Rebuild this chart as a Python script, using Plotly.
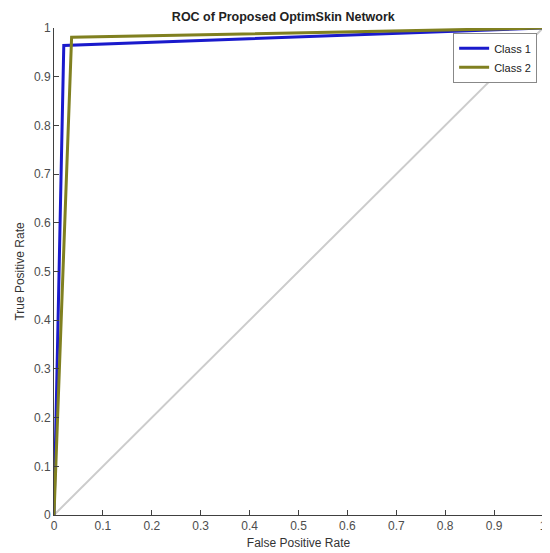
import plotly.graph_objects as go

# ROC data
class1_fpr = [0.0, 0.02, 1.0]
class1_tpr = [0.0, 0.964, 1.0]
class2_fpr = [0.0, 0.036, 1.0]
class2_tpr = [0.0, 0.981, 1.0]
chance_x = [0.0, 1.0]
chance_y = [0.0, 1.0]
tick_vals = [0, 0.1, 0.2, 0.3, 0.4, 0.5, 0.6, 0.7, 0.8, 0.9, 1]
tick_text = ["0", "0.1", "0.2", "0.3", "0.4", "0.5", "0.6", "0.7", "0.8", "0.9", "1"]

fig = go.Figure()
fig.add_trace(go.Scatter(x=chance_x, y=chance_y, mode="lines",
                         line=dict(color="#cccccc", width=2), showlegend=False, hoverinfo="skip"))
fig.add_trace(go.Scatter(x=class1_fpr, y=class1_tpr, mode="lines", name="Class 1",
                         line=dict(color="#1a1acc", width=3)))
fig.add_trace(go.Scatter(x=class2_fpr, y=class2_tpr, mode="lines", name="Class 2",
                         line=dict(color="#808020", width=3)))

axis_common = dict(range=[0, 1], tickvals=tick_vals, ticktext=tick_text,
                   ticks="inside", ticklen=5, tickcolor="#404040",
                   showline=True, linecolor="#404040", linewidth=1,
                   showgrid=False, zeroline=False, automargin=False,
                   ticklabeloverflow="allow",
                   tickfont=dict(family="Arial, Liberation Sans", size=12, color="#4d4d4d"),
                   title_font=dict(family="Arial, Liberation Sans", size=12, color="#333333"))

# page body adds an 8px offset, so the figure is sized to fit the 550x553 window
fig.update_layout(
    width=542, height=545,
    margin=dict(l=46, r=7, t=20, b=38, autoexpand=False),
    paper_bgcolor="white", plot_bgcolor="white",
    title=dict(text="<b>ROC of Proposed OptimSkin Network</b>", x=0.508, xanchor="center",
               y=0.985, yanchor="middle", automargin=False,
               font=dict(family="Arial, Liberation Sans", size=12.5, color="#222222")),
    xaxis=dict(axis_common, title=dict(text="False Positive Rate", standoff=6)),
    yaxis=dict(axis_common, title=dict(text="True Positive Rate", standoff=6)),
    legend=dict(x=0.988, y=0.99, xanchor="right", yanchor="top",
                bordercolor="#888888", borderwidth=1, bgcolor="white",
                font=dict(family="Arial, Liberation Sans", size=11, color="#222222"),
                itemwidth=30, tracegroupgap=0),
)

fig.write_html("out.html")
